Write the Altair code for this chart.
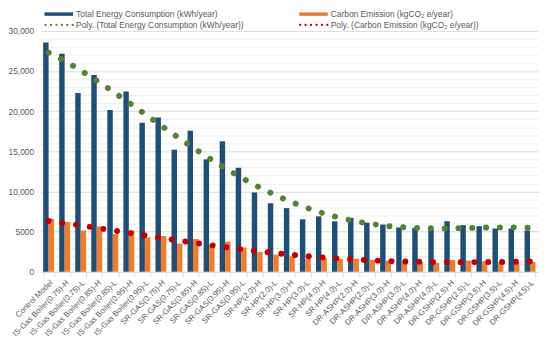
import altair as alt
import pandas as pd

categories = [
    "Control Model",
    "IS-Gas Boiler(0.75)-H", "IS-Gas Boiler(0.75)-L",
    "IS-Gas Boiler(0.85)-H", "IS-Gas Boiler(0.85)-L",
    "IS-Gas Boiler(0.95)-H", "IS-Gas Boiler(0.95)-L",
    "SR-GAS(0.75)-H", "SR-GAS(0.75)-L",
    "SR-GAS(0.85)-H", "SR-GAS(0.85)-L",
    "SR-GAS(0.95)-H", "SR-GAS(0.95)-L",
    "SR-HP(2.0)-H", "SR-HP(2.0)-L",
    "SR-HP(3.0)-H", "SR-HP(3.0)-L",
    "SR-HP(4.0)-H", "SR-HP(4.0)-L",
    "DR-ASHP(2.0)-H", "DR-ASHP(2.0)-L",
    "DR-ASHP(3.0)-H", "DR-ASHP(3.0)-L",
    "DR-ASHP(4.0)-H", "DR-ASHP(4.0)-L",
    "DR-GSHP(2.5)-H", "DR-GSHP(2.5)-L",
    "DR-GSHP(3.5)-H", "DR-GSHP(3.5)-L",
    "DR-GSHP(4.5)-H", "DR-GSHP(4.5)-L",
]

energy = [28550, 27150, 22250, 24500, 20150, 22450, 18550, 19200, 15200, 17550,
          14000, 16250, 12950, 9880, 8530, 7920, 6530, 6900, 6290, 6700,
          6120, 5880, 5510, 5470, 5310, 6290, 5800, 5670, 5390, 5390, 5140]

carbon = [6610, 6200, 5140, 5630, 4690, 5140, 4290, 4450, 3510, 4080,
          3350, 3750, 3020, 2450, 2120, 1920, 1630, 1710, 1590, 1630,
          1470, 1390, 1140, 1220, 1100, 1470, 1390, 1300, 1140, 1140, 1220]

series_names = ["Total Energy Consumption (kWh/year)", "Carbon Emission (kgCO₂ e/year)"]
legend_labels = [
    "Total Energy Consumption (kWh/year)",
    "Carbon Emission (kgCO₂ e/year)",
    "Poly. (Total Energy Consumption (kWh/year))",
    "Poly. (Carbon Emission (kgCO₂ e/year))",
]

BLUE = "#1F4E79"
ORANGE = "#ED7D31"
GREEN = "#548235"
RED = "#C00000"
TXT = "#595959"
FONT = "Liberation Sans"

rows = []
for i, (c, e, k) in enumerate(zip(categories, energy, carbon)):
    rows.append({"cat": c, "idx": i + 1, "series": series_names[0], "value": e})
    rows.append({"cat": c, "idx": i + 1, "series": series_names[1], "value": k})
long_df = pd.DataFrame(rows)
wide_df = pd.DataFrame({"cat": categories, "idx": list(range(1, len(categories) + 1)),
                        "energy": energy, "carbon": carbon})
legend_df = pd.DataFrame({"label": legend_labels})

n = len(categories)


def y_axis():
    return alt.Axis(
        values=list(range(0, 30001, 1000)),
        labelExpr="datum.value % 5000 === 0 ? (datum.value === 5000 ? '5000' : format(datum.value, ',')) : ''",
        grid=True,
        gridColor={"condition": {"test": "datum.value % 5000 === 0", "value": "#d9d9d9"}, "value": "#efefef"},
        gridWidth=1,
        ticks=False,
        domain=False,
        title=None,
        labelFontSize=8.5,
        labelColor=TXT,
        labelFont=FONT,
        labelPadding=7,
    )


def y_scale():
    return alt.Scale(domain=[0, 30000], nice=False)


bars = alt.Chart(long_df).mark_bar().encode(
    x=alt.X("cat:N", sort=categories,
            scale=alt.Scale(paddingInner=0.32, paddingOuter=0.16),
            axis=alt.Axis(labelAngle=-45, labelFontSize=8, labelColor=TXT, labelFont=FONT,
                          tickColor="#d9d9d9", tickSize=5, tickBand="extent",
                          domainColor="#d9d9d9", title=None, labelPadding=2, grid=False)),
    xOffset=alt.XOffset("series:N", sort=series_names),
    y=alt.Y("value:Q", scale=y_scale(), axis=y_axis()),
    color=alt.Color("series:N", scale=alt.Scale(domain=series_names, range=[BLUE, ORANGE]), legend=None),
)

xq = alt.X("idx:Q", scale=alt.Scale(domain=[0.5, n + 0.5], nice=False, zero=False), axis=None)

trend_energy = alt.Chart(wide_df).transform_regression(
    "idx", "energy", method="poly", order=4, extent=[1, n]
).transform_calculate(value="datum.energy").mark_line(
    color=GREEN, strokeWidth=6, strokeCap="round", strokeDash=[0.1, 13.9]
).encode(
    x=xq, y=alt.Y("value:Q", scale=y_scale(), axis=y_axis())
)

trend_carbon = alt.Chart(wide_df).transform_regression(
    "idx", "carbon", method="poly", order=4, extent=[1, n]
).transform_calculate(value="datum.carbon").mark_line(
    color=RED, strokeWidth=6, strokeCap="round", strokeDash=[0.1, 13.9]
).encode(
    x=xq, y=alt.Y("value:Q", scale=y_scale(), axis=y_axis())
)

ROW1 = -17
ROW2 = -6
COL1 = 4
COL2 = 262
SW = 29


def leg_text(i, x, y):
    return alt.Chart(legend_df).transform_filter(
        alt.datum.label == legend_labels[i]
    ).mark_text(align="left", baseline="middle", fontSize=8.5, font=FONT, color=TXT).encode(
        text="label:N", x=alt.value(x + SW + 3), y=alt.value(y)
    )


def leg_bar(i, x, y, color):
    return alt.Chart(legend_df).transform_filter(
        alt.datum.label == legend_labels[i]
    ).mark_rule(color=color, strokeWidth=3.5).encode(
        x=alt.value(x), x2=alt.value(x + SW), y=alt.value(y)
    )


def leg_dots(i, x, y, color):
    return alt.Chart(legend_df).transform_filter(
        alt.datum.label == legend_labels[i]
    ).mark_rule(color=color, strokeWidth=2.2, strokeCap="round", strokeDash=[0.1, 5.4]).encode(
        x=alt.value(x + 1), x2=alt.value(x + SW), y=alt.value(y)
    )


legend_layers = [
    leg_bar(0, COL1, ROW1, BLUE), leg_text(0, COL1, ROW1),
    leg_bar(1, COL2, ROW1, ORANGE), leg_text(1, COL2, ROW1),
    leg_dots(2, COL1, ROW2, GREEN), leg_text(2, COL1, ROW2),
    leg_dots(3, COL2, ROW2, RED), leg_text(3, COL2, ROW2),
]

chart = alt.layer(bars, trend_energy, trend_carbon, *legend_layers).resolve_scale(
    x="independent"
).properties(
    width=504, height=244, padding={"left": 0, "right": 0, "top": 0, "bottom": 0}
).configure_view(stroke=None)

chart.save("out.html", embed_options={"renderer": "svg", "actions": False})
